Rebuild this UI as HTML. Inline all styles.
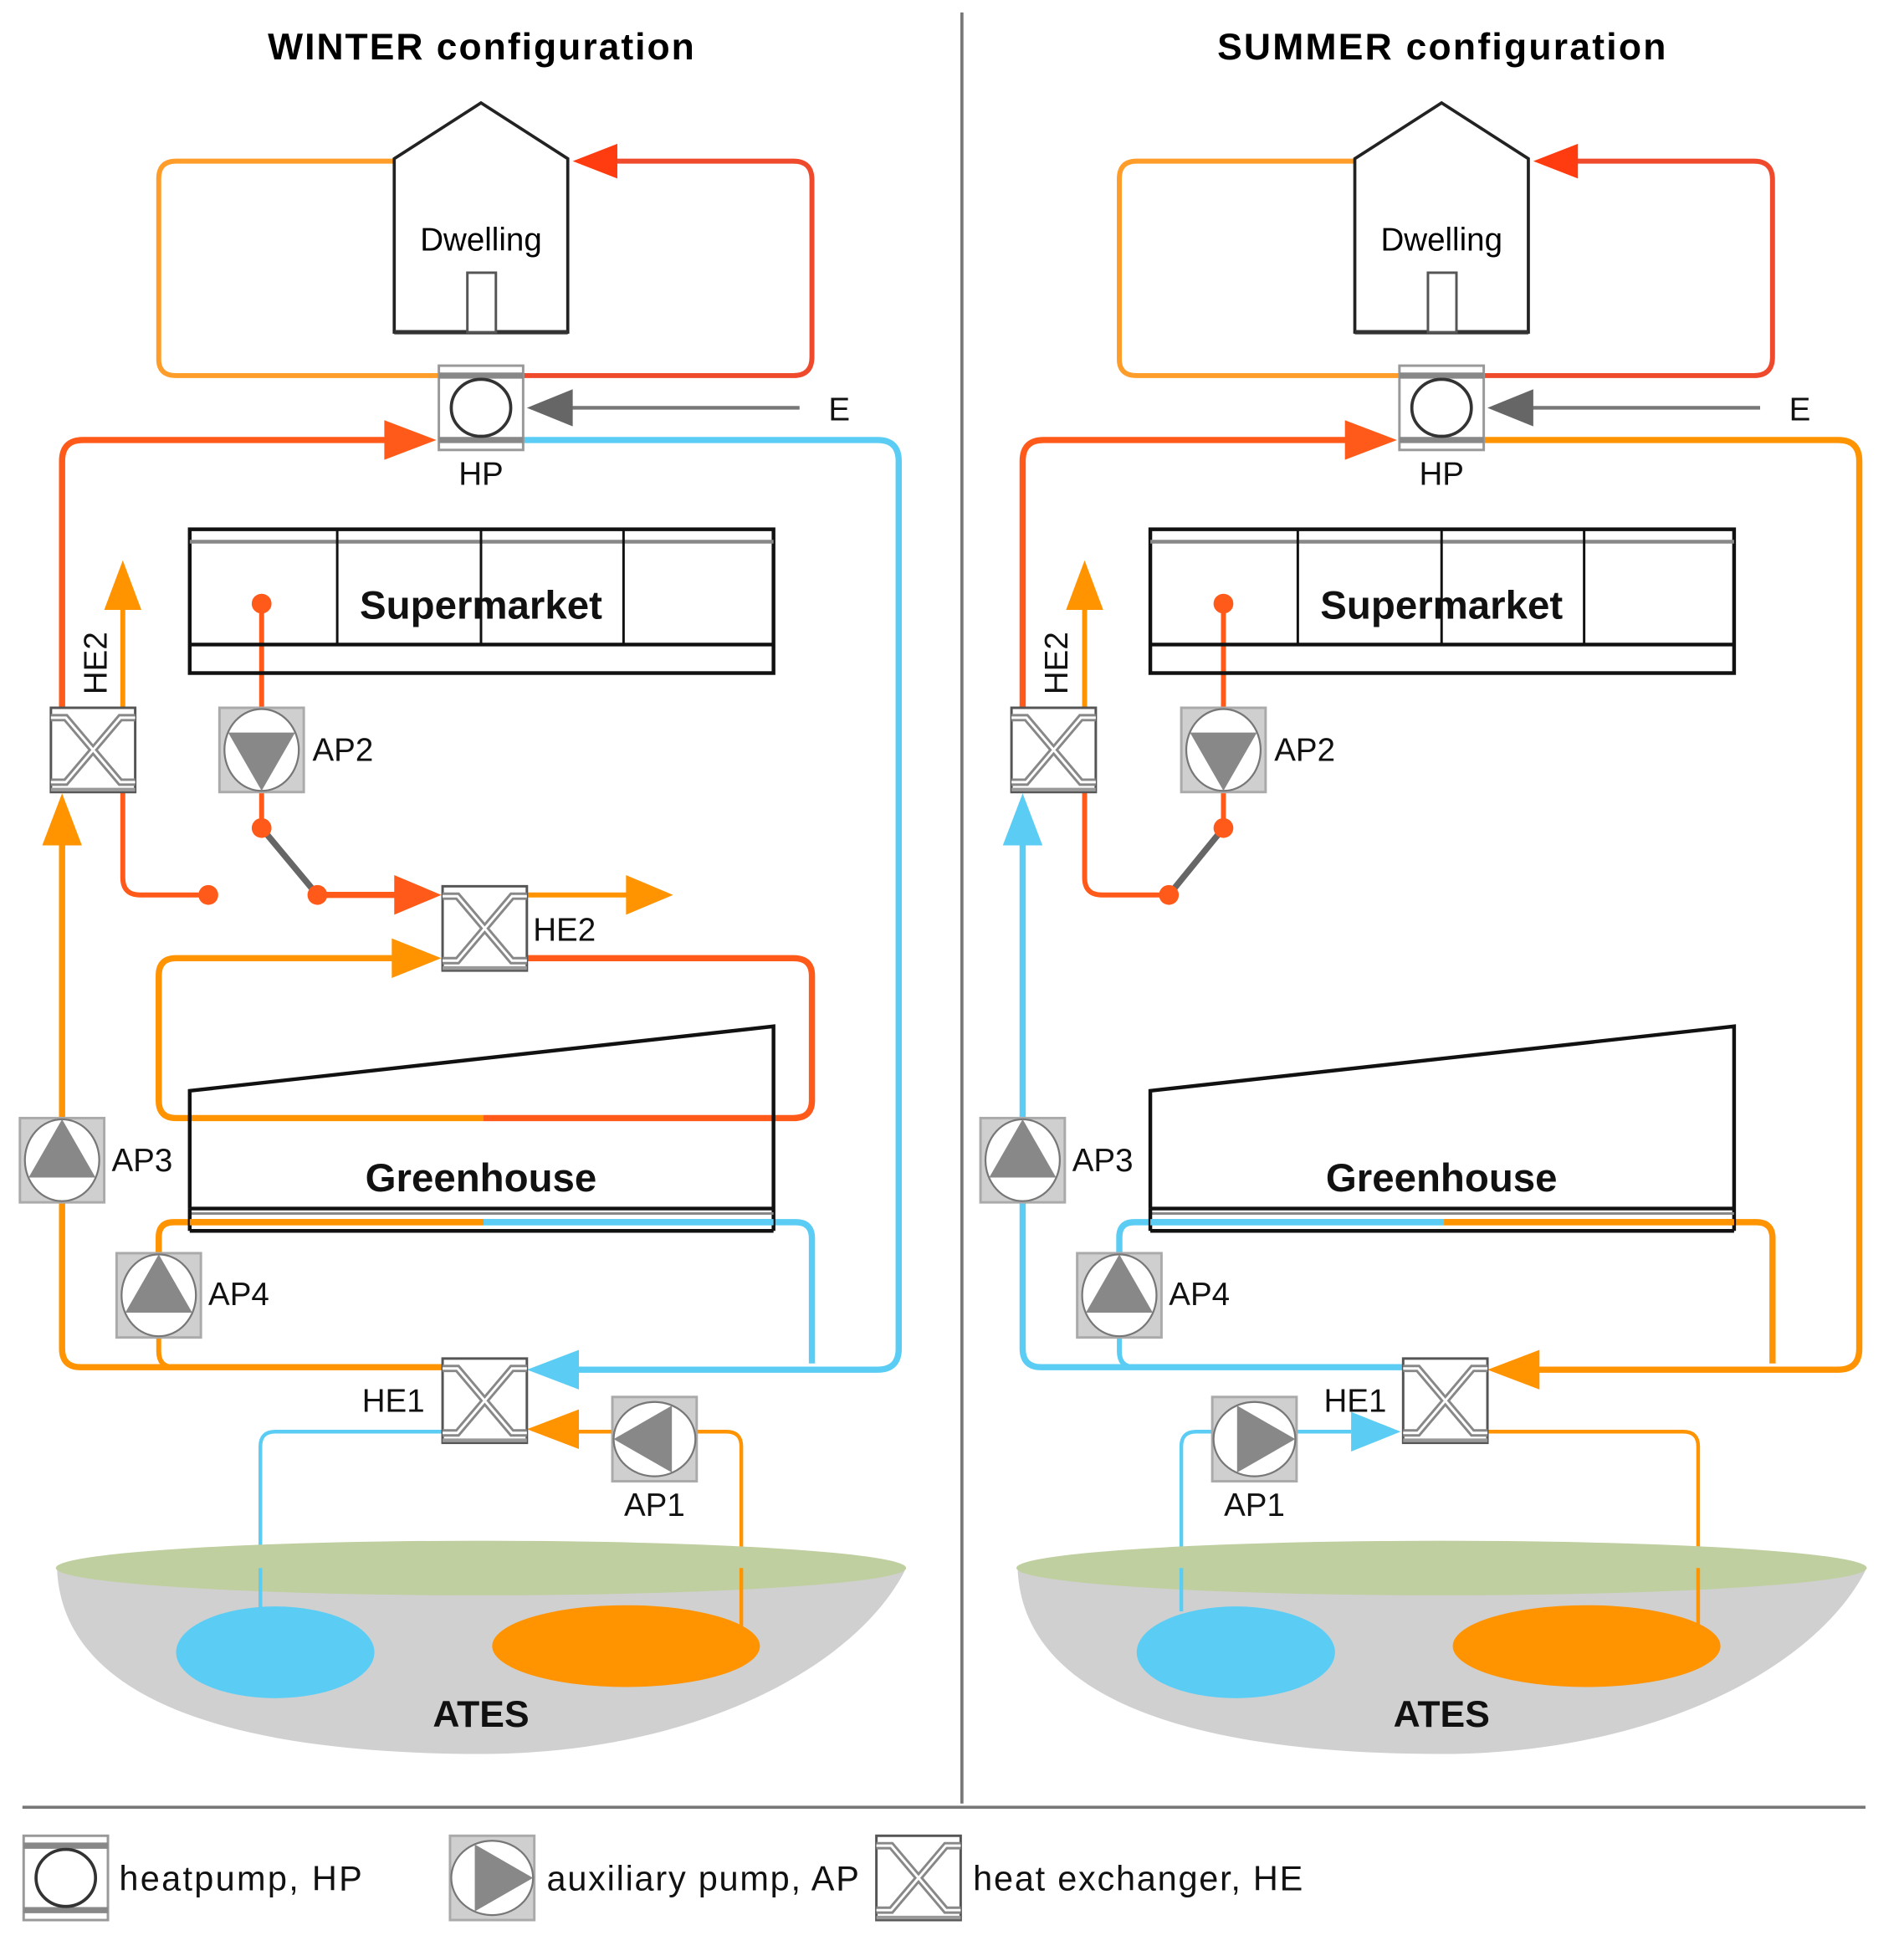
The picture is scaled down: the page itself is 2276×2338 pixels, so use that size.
<!DOCTYPE html>
<html><head><meta charset="utf-8"><style>html,body{margin:0;padding:0;background:#fff}svg{display:block}</style></head><body>
<svg xmlns="http://www.w3.org/2000/svg" xmlns:xlink="http://www.w3.org/1999/xlink" width="2276" height="2338" viewBox="0 0 1536 1578" font-family="'Liberation Sans', sans-serif">
<defs>
<g id="hp"><rect x="-34" y="-34" width="68" height="68" fill="#fff" stroke="#999" stroke-width="2"/><line x1="-34" y1="-26" x2="34" y2="-26" stroke="#888" stroke-width="5"/><line x1="-34" y1="26" x2="34" y2="26" stroke="#888" stroke-width="5"/><ellipse cx="0" cy="0" rx="24" ry="23" fill="#fff" stroke="#333" stroke-width="2.5"/></g>
<g id="he"><rect x="-34" y="-34" width="68" height="68" fill="#fff" stroke="#555" stroke-width="2"/><line x1="-34" y1="32" x2="34" y2="32" stroke="#999" stroke-width="3"/><path d="M-34,-26 H-22 L22,26 H34 M34,-26 H22 L-22,26 H-34" fill="none" stroke="#888" stroke-width="6"/><path d="M-34,-26 H-22 L22,26 H34 M34,-26 H22 L-22,26 H-34" fill="none" stroke="#fff" stroke-width="2"/></g>
<g id="pu"><rect x="-34" y="-34" width="68" height="68" fill="#cfcfcf" stroke="#aaa" stroke-width="2"/><ellipse cx="0" cy="0" rx="30" ry="33" fill="#fff" stroke="#777" stroke-width="1.5"/><polygon points="0,-33 27,14 -27,14" fill="#888"/></g>
</defs>
<g fill="none" stroke-linejoin="round">
<line x1="776" y1="10" x2="776" y2="1455" stroke="#777" stroke-width="2.5"/>
<line x1="18" y1="1458" x2="1505" y2="1458" stroke="#777" stroke-width="2.5"/>
</g>

<!-- ================= WINTER ================= -->
<text x="388" y="48" font-size="30" font-weight="bold" text-anchor="middle" textLength="344">WINTER configuration</text>
<g fill="none" stroke-width="4">
<path d="M318,130 H142 Q128,130 128,144 V290 Q128,303 142,303 H354" stroke="#ff9d2a"/>
<path d="M422,303 H640 Q655,303 655,288 V145 Q655,130 640,130 H495" stroke="#ef4a2c"/>
<line x1="645" y1="329" x2="455" y2="329" stroke="#777" stroke-width="3"/>
<path d="M50,572 V372 Q50,355 67,355 H320" stroke="#ff5a1a" stroke-width="5"/>
<path d="M422,355 H708 Q725,355 725,372 V1088 Q725,1105 708,1105 H460" stroke="#5bcdf5" stroke-width="5"/>
<line x1="99" y1="572" x2="99" y2="485" stroke="#ff9300"/>
<path d="M99,638 V708 Q99,722 113,722 H168" stroke="#ff5a1a"/>
<path d="M50,680 V1088 Q50,1103 65,1103 H357" stroke="#ff9300" stroke-width="5"/>
<path d="M128,1078 V1090 Q128,1103 140,1103" stroke="#ff9300"/>
<line x1="211" y1="487" x2="211" y2="668" stroke="#ff5a1a"/>
<line x1="211" y1="668" x2="256" y2="722" stroke="#666" stroke-width="5"/>
<line x1="256" y1="722" x2="322" y2="722" stroke="#ff5a1a" stroke-width="5"/>
<line x1="425" y1="722" x2="508" y2="722" stroke="#ff9300"/>
<path d="M320,773 H142 Q128,773 128,787 V888 Q128,902 142,902 H390" stroke="#ff9300" stroke-width="5"/>
<path d="M390,902 H640 Q655,902 655,888 V787 Q655,773 640,773 H425" stroke="#ff5a1a" stroke-width="5"/>
<path d="M390,986 H140 Q128,986 128,998 V1011" stroke="#ff9300" stroke-width="5"/>
<path d="M390,986 H642 Q655,986 655,999 V1100" stroke="#5bcdf5" stroke-width="5"/>
<path d="M357,1155 H222 Q210,1155 210,1167 V1300" stroke="#5bcdf5" stroke-width="3"/>
<path d="M598,1312 V1167 Q598,1155 586,1155 H465" stroke="#ff9300" stroke-width="3"/>
</g>
<g stroke="none">
<polygon points="462,130 498,116 498,144" fill="#ff3c10"/>
<polygon points="425,329 462,314 462,344" fill="#666"/>
<polygon points="352,355 310,339 310,371" fill="#ff5a1a"/>
<polygon points="99,452 84,492 114,492" fill="#ff9300"/>
<polygon points="50,640 34,682 66,682" fill="#ff9300"/>
<polygon points="356,722 318,706 318,738" fill="#ff5a1a"/>
<polygon points="543,722 505,706 505,738" fill="#ff9300"/>
<polygon points="356,773 316,757 316,789" fill="#ff9300"/>
<polygon points="425,1105 467,1089 467,1121" fill="#5bcdf5"/>
<polygon points="425,1153 467,1137 467,1169" fill="#ff9300"/>
<circle cx="211" cy="487" r="8" fill="#ff5a1a"/>
<circle cx="211" cy="668" r="8" fill="#ff5a1a"/>
<circle cx="256" cy="722" r="8" fill="#ff5a1a"/>
<circle cx="168" cy="722" r="8" fill="#ff5a1a"/>
</g>

<g id="bld">
<polygon points="318,268 318,128 388,83 458,128 458,268" fill="#fff" stroke="#222" stroke-width="2.5"/>
<line x1="318" y1="268" x2="458" y2="268" stroke="#333" stroke-width="3.5"/>
<rect x="377" y="220" width="23" height="48" fill="#fff" stroke="#555" stroke-width="2"/>
<text x="388" y="202" font-size="26" text-anchor="middle" fill="#000">Dwelling</text>
<rect x="153" y="427" width="471" height="116" fill="none" stroke="#111" stroke-width="3"/>
<line x1="153" y1="437" x2="624" y2="437" stroke="#888" stroke-width="3"/>
<line x1="153" y1="520" x2="624" y2="520" stroke="#111" stroke-width="3"/>
<line x1="272" y1="427" x2="272" y2="520" stroke="#111" stroke-width="2"/>
<line x1="388" y1="427" x2="388" y2="520" stroke="#111" stroke-width="2"/>
<line x1="503" y1="427" x2="503" y2="520" stroke="#111" stroke-width="2"/>
<text x="388" y="499" font-size="32" font-weight="bold" text-anchor="middle" fill="#111">Supermarket</text>
<path d="M153,975 V880 L624,828 V993" fill="none" stroke="#111" stroke-width="3"/>
<line x1="153" y1="975" x2="624" y2="975" stroke="#111" stroke-width="3"/>
<line x1="153" y1="979" x2="624" y2="979" stroke="#888" stroke-width="2"/>
<line x1="153" y1="993" x2="624" y2="993" stroke="#111" stroke-width="3"/>
<line x1="153" y1="975" x2="153" y2="993" stroke="#111" stroke-width="3"/>
<text x="388" y="961" font-size="32" font-weight="bold" text-anchor="middle" fill="#111">Greenhouse</text>
<path d="M46,1267 C 52,1380 210,1415 388,1415 C 560,1415 690,1345 730,1267 Z" fill="#d0d0d0"/>
<ellipse cx="388" cy="1265" rx="343" ry="22" fill="#bfcf9f"/>
<text x="388" y="1393" font-size="30" font-weight="bold" text-anchor="middle" fill="#111">ATES</text>
</g>
<line x1="210" y1="1265" x2="210" y2="1300" stroke="#5bcdf5" stroke-width="3"/>
<line x1="598" y1="1265" x2="598" y2="1312" stroke="#ff9300" stroke-width="3"/>
<ellipse cx="222" cy="1333" rx="80" ry="37" fill="#5bcdf5"/>
<ellipse cx="505" cy="1328" rx="108" ry="33" fill="#ff9300"/>
<line x1="153" y1="986" x2="390" y2="986" stroke="#ff9300" stroke-width="5"/>
<line x1="390" y1="986" x2="624" y2="986" stroke="#5bcdf5" stroke-width="5"/>

<use xlink:href="#hp" x="388" y="329"/>
<use xlink:href="#he" x="75" y="605"/>
<use xlink:href="#he" x="391" y="749"/>
<use xlink:href="#he" x="391" y="1130"/>
<use xlink:href="#pu" transform="translate(211,605) rotate(180)"/>
<use xlink:href="#pu" x="50" y="936"/>
<use xlink:href="#pu" x="128" y="1045"/>
<use xlink:href="#pu" transform="translate(528,1161) rotate(-90)"/>
<g font-size="26" fill="#111">
<text x="677" y="339" text-anchor="middle">E</text>
<text x="388" y="391" text-anchor="middle">HP</text>
<text transform="translate(86,535) rotate(-90)" text-anchor="middle">HE2</text>
<text x="252" y="614">AP2</text>
<text x="430" y="759">HE2</text>
<text x="90" y="945">AP3</text>
<text x="168" y="1053">AP4</text>
<text x="292" y="1139">HE1</text>
<text x="528" y="1223" text-anchor="middle">AP1</text>
</g>

<!-- ================= SUMMER ================= -->
<text x="1163" y="48" font-size="30" font-weight="bold" text-anchor="middle" textLength="362">SUMMER configuration</text>
<g fill="none" stroke-width="4">
<path d="M1093,130 H917 Q903,130 903,144 V290 Q903,303 917,303 H1129" stroke="#ff9d2a"/>
<path d="M1197,303 H1415 Q1430,303 1430,288 V145 Q1430,130 1415,130 H1270" stroke="#ef4a2c"/>
<line x1="1420" y1="329" x2="1230" y2="329" stroke="#777" stroke-width="3"/>
<path d="M825,572 V372 Q825,355 842,355 H1095" stroke="#ff5a1a" stroke-width="5"/>
<path d="M1197,355 H1483 Q1500,355 1500,372 V1088 Q1500,1105 1483,1105 H1235" stroke="#ff9300" stroke-width="5"/>
<line x1="875" y1="572" x2="875" y2="485" stroke="#ff9300"/>
<path d="M875,638 V708 Q875,722 889,722 H943" stroke="#ff5a1a"/>
<path d="M825,680 V1088 Q825,1103 840,1103 H1133" stroke="#5bcdf5" stroke-width="5"/>
<path d="M903,1078 V1090 Q903,1103 915,1103" stroke="#5bcdf5"/>
<line x1="987" y1="487" x2="987" y2="668" stroke="#ff5a1a"/>
<line x1="987" y1="668" x2="943" y2="722" stroke="#666" stroke-width="5"/>
<path d="M1165,986 H915 Q903,986 903,998 V1011" stroke="#5bcdf5" stroke-width="5"/>
<path d="M1165,986 H1417 Q1430,986 1430,999 V1100" stroke="#ff9300" stroke-width="5"/>
<path d="M1090,1155 H1045 M978,1155 H965 Q953,1155 953,1167 V1300" stroke="#5bcdf5" stroke-width="3"/>
<path d="M1370,1312 V1167 Q1370,1155 1358,1155 H1200" stroke="#ff9300" stroke-width="3"/>
</g>
<g stroke="none">
<polygon points="1237,130 1273,116 1273,144" fill="#ff3c10"/>
<polygon points="1200,329 1237,314 1237,344" fill="#666"/>
<polygon points="1127,355 1085,339 1085,371" fill="#ff5a1a"/>
<polygon points="875,452 860,492 890,492" fill="#ff9300"/>
<polygon points="825,640 809,682 841,682" fill="#5bcdf5"/>
<polygon points="1200,1105 1242,1089 1242,1121" fill="#ff9300"/>
<polygon points="1130,1155 1090,1139 1090,1171" fill="#5bcdf5"/>
<circle cx="987" cy="487" r="8" fill="#ff5a1a"/>
<circle cx="987" cy="668" r="8" fill="#ff5a1a"/>
<circle cx="943" cy="722" r="8" fill="#ff5a1a"/>
</g>
<use xlink:href="#bld" x="775" y="0"/>
<line x1="953" y1="1265" x2="953" y2="1300" stroke="#5bcdf5" stroke-width="3"/>
<line x1="1370" y1="1265" x2="1370" y2="1312" stroke="#ff9300" stroke-width="3"/>
<ellipse cx="997" cy="1333" rx="80" ry="37" fill="#5bcdf5"/>
<ellipse cx="1280" cy="1328" rx="108" ry="33" fill="#ff9300"/>
<line x1="928" y1="986" x2="1165" y2="986" stroke="#5bcdf5" stroke-width="5"/>
<line x1="1165" y1="986" x2="1399" y2="986" stroke="#ff9300" stroke-width="5"/>

<use xlink:href="#hp" x="1163" y="329"/>
<use xlink:href="#he" x="850" y="605"/>
<use xlink:href="#he" x="1166" y="1130"/>
<use xlink:href="#pu" transform="translate(987,605) rotate(180)"/>
<use xlink:href="#pu" x="825" y="936"/>
<use xlink:href="#pu" x="903" y="1045"/>
<use xlink:href="#pu" transform="translate(1012,1161) rotate(90)"/>
<g font-size="26" fill="#111">
<text x="1452" y="339" text-anchor="middle">E</text>
<text x="1163" y="391" text-anchor="middle">HP</text>
<text transform="translate(861,535) rotate(-90)" text-anchor="middle">HE2</text>
<text x="1028" y="614">AP2</text>
<text x="865" y="945">AP3</text>
<text x="943" y="1053">AP4</text>
<text x="1068" y="1139">HE1</text>
<text x="1012" y="1223" text-anchor="middle">AP1</text>
</g>

<use xlink:href="#hp" x="53" y="1515"/>
<use xlink:href="#pu" transform="translate(397,1515) rotate(90)"/>
<use xlink:href="#he" x="741" y="1515"/>
<g font-size="28" fill="#111">
<text x="96" y="1525" textLength="196">heatpump, HP</text>
<text x="441" y="1525" textLength="252">auxiliary pump, AP</text>
<text x="785" y="1525" textLength="266">heat exchanger, HE</text>
</g>
</svg>
</body></html>
